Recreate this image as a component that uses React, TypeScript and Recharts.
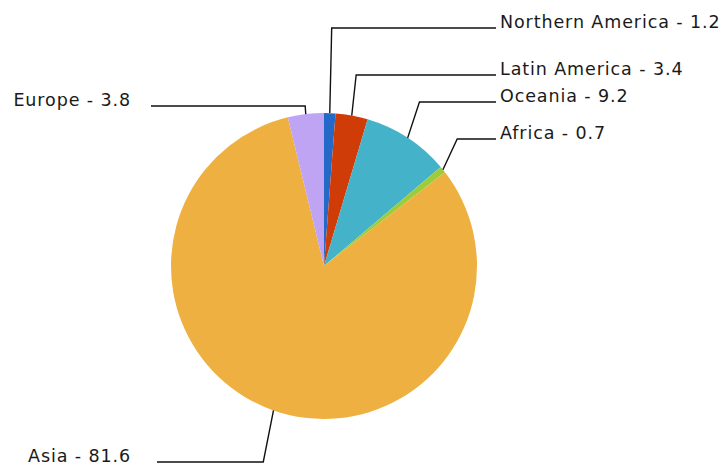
import { PieChart, Pie, Cell } from 'recharts'

const regions = ['Northern America', 'Latin America', 'Oceania', 'Africa', 'Asia', 'Europe']
const shares = [1.2, 3.4, 9.2, 0.7, 81.6, 3.8]
const colors = ['#2468c8', '#d03c08', '#44b2c8', '#9ccc3c', '#eeb040', '#c0a4f4']

// where each label sits (baseline y), picked to match the original layout
const labelY = [28, 75, 102, 139, 462, 106]

const data = regions.map((name, i) => ({ name, value: shares[i] }))

const RAD = Math.PI / 180

function renderLabel(props: any) {
  const { cx, cy, midAngle, outerRadius, index, name, value } = props
  const ex = cx + outerRadius * Math.cos(-midAngle * RAD)
  const ey = cy + outerRadius * Math.sin(-midAngle * RAD)
  const ly = labelY[index]
  const right = ex >= cx
  const dir = (ex - cx) / outerRadius
  const bx = ex + dir * Math.abs(ey - ly) * 0.6
  const lineEnd = right ? 496 : index === 4 ? 157 : 151
  const textX = right ? 500 : 131
  return (
    <g key={`lbl-${index}`}>
      <polyline
        points={`${ex},${ey} ${bx},${ly} ${lineEnd},${ly}`}
        fill='none'
        stroke='#111'
        strokeWidth={1.4}
      />
      <text
        x={textX}
        y={ly}
        textAnchor={right ? 'start' : 'end'}
        fontFamily='DejaVu Sans'
        fontSize={17.5}
        letterSpacing={0.9}
        fill='#1a1a1a'
      >
        {`${name} - ${value}`}
      </text>
    </g>
  )
}

export default function App() {
  return (
    <div style={{ position: 'absolute', left: 0, top: 0, background: '#fff' }}>
      <PieChart width={728} height={473} margin={{ top: 0, right: 0, bottom: 0, left: 0 }}>
        <Pie
          data={data}
          dataKey='value'
          nameKey='name'
          cx={324}
          cy={266}
          outerRadius={153}
          startAngle={90}
          endAngle={-270}
          stroke='none'
          label={renderLabel}
          labelLine={false}
          isAnimationActive={false}
        >
          {data.map((d, i) => (
            <Cell key={d.name} fill={colors[i]} />
          ))}
        </Pie>
      </PieChart>
    </div>
  )
}
